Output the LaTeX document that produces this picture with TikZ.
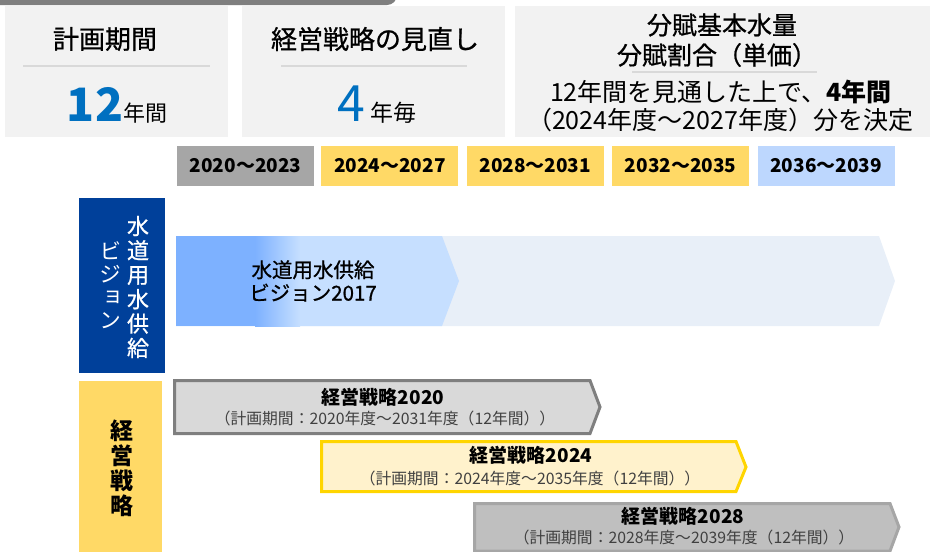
\documentclass[tikz,border=0pt]{standalone}
\usepackage{fontspec}
\setmainfont{Noto Sans CJK JP}
\newfontfamily\medjp[FakeBold=0.8]{Noto Sans CJK JP}
\newfontfamily\vertjp[RawFeature=+vert]{Noto Sans CJK JP}
\usetikzlibrary{positioning}
\definecolor{barGrey}{HTML}{7F7F7F}
\definecolor{panelGrey}{HTML}{F2F2F2}
\definecolor{sepGrey}{HTML}{D9D9D9}
\definecolor{numBlue}{HTML}{0070C0}
\definecolor{yearGrey}{HTML}{A6A6A6}
\definecolor{yearYellow}{HTML}{FFD966}
\definecolor{yearBlue}{HTML}{BDD7FE}
\definecolor{visionNavy}{HTML}{00409A}
\definecolor{visionBack}{HTML}{E8EFF8}
\definecolor{visionDeep}{HTML}{7DB1FF}
\definecolor{visionLight}{HTML}{C6DFFF}
\definecolor{subGrey}{HTML}{404040}
\definecolor{planGold}{HTML}{FFD500}
\definecolor{planCream}{HTML}{FFF2CC}
\definecolor{planSilver}{HTML}{BFBFBF}

\begin{document}
\begin{tikzpicture}[x=1pt, y=-1pt,
    panel/.style={fill=panelGrey},
    sepline/.style={draw=sepGrey, line width=2pt},
    headtext/.style={font=\medjp\fontsize{26}{30}\selectfont, inner sep=0pt},
    yearbox/.style={minimum width=137pt, minimum height=40pt, inner sep=0pt,
        font=\bfseries\fontsize{19}{20}\selectfont},
    vtext/.style={align=center, inner sep=0pt},
    plantitle/.style={font=\bfseries\fontsize{19}{20}\selectfont, inner sep=0pt},
    plansub/.style={font=\fontsize{15.8}{16}\selectfont, text=subGrey, inner sep=0pt},
    chevron/.style={line width=3pt, line join=miter}]
    \useasboundingbox (0,0) rectangle (930,552);
    \fill[barGrey, rounded corners=10pt] (-20,-20) rectangle (397,5);

    % top panels
    \fill[panel] (5,6) rectangle (228,137);
    \fill[panel] (242,6) rectangle (505,137);
    \fill[panel] (515,6) rectangle (935,137);
    \node[headtext] (planHead) at (105,39) {計画期間};
    \draw[sepline] (23,66) -- (210,66);
    \node[anchor=base, inner sep=0pt] (planValue) at (117,121)
        {{\color{numBlue}\bfseries\fontsize{46}{46}\selectfont 12}{\fontsize{22}{22}\selectfont 年間}};
    \node[headtext] (reviewHead) at (375,39) {経営戦略の見直し};
    \draw[sepline] (281,66) -- (467,66);
    \node[anchor=base, inner sep=0pt] (reviewValue) at (377,121)
        {{\color{numBlue}\fontsize{50}{50}\selectfont 4}\hspace{6pt}{\fontsize{23}{23}\selectfont 年毎}};
    \node[headtext, font=\medjp\fontsize{25}{30}\selectfont] (rateHead) at (722,25) {分賦基本水量};
    \node[headtext, font=\medjp\fontsize{25}{30}\selectfont] (rateSub) at (717,55) {分賦割合（単価）};
    \draw[sepline] (632,72) -- (817,72);
    \node[inner sep=0pt, font=\fontsize{25}{26}\selectfont] (rateNote) at (721,92)
        {12年間を見通した上で、{\bfseries 4年間}};
    \node[inner sep=0pt, font=\fontsize{25}{26}\selectfont] (rateTerm) at (720,120)
        {（2024年度～2027年度）分を決定};

    % year header
    \node[yearbox, fill=yearGrey] (y2020) at (245.5,166) {2020～2023};
    \node[yearbox, fill=yearYellow, right=7pt of y2020] (y2024) {2024～2027};
    \node[yearbox, fill=yearYellow, right=8pt of y2024] (y2028) {2028～2031};
    \node[yearbox, fill=yearYellow, right=8pt of y2028] (y2032) {2032～2035};
    \node[yearbox, fill=yearBlue, right=8pt of y2032] (y2036) {2036～2039};

    % vision row
    \fill[visionNavy] (79,198) rectangle (165,373);
    \node[vtext, text=white, font=\medjp\fontsize{22}{24.4}\selectfont] (visionColA) at (138,287) {水\\道\\用\\水\\供\\給};
    \node[vtext, text=white, font=\vertjp\fontsize{22}{23}\selectfont] (visionColB) at (110,285) {ビ\\ジ\\ョ\\ン};
    \fill[visionBack] (176,236) -- (879,236) -- (895,281) -- (879,326) -- (176,326) -- cycle;
    \fill[visionLight] (176,236) -- (442,236) -- (459,281) -- (442,326) -- (176,326) -- cycle;
    \fill[visionDeep] (176,236) rectangle (256,326);
    \shade[left color=visionDeep, right color=visionLight] (255,236) rectangle (300,326);
    \node[vtext, font=\medjp\fontsize{20.5}{23}\selectfont] (visionText) at (313,281) {水道用水供給\\ビジョン2017};

    % strategy row
    \fill[yearYellow] (79,381) rectangle (162,560);
    \node[vtext, font=\bfseries\fontsize{23}{25}\selectfont] (planColumn) at (122,468) {経\\営\\戦\\略};
    \draw[chevron, draw=barGrey, fill=sepGrey] (174.5,380.5) -- (590,380.5) -- (600,407) -- (590,433.5) -- (174.5,433.5) -- cycle;
    \node[plantitle] (plan2020) at (383,397) {経営戦略2020};
    \node[plansub] (term2020) at (385,418) {（計画期間：2020年度～2031年度（12年間））};
    \draw[chevron, draw=planGold, fill=planCream] (321.5,441.5) -- (736,441.5) -- (746,467) -- (736,491.5) -- (321.5,491.5) -- cycle;
    \node[plantitle] (plan2024) at (531,455) {経営戦略2024};
    \node[plansub] (term2024) at (530,478) {（計画期間：2024年度～2035年度（12年間））};
    \draw[chevron, draw=yearGrey, fill=planSilver] (474.5,503.5) -- (890,503.5) -- (899,527) -- (890,551) -- (474.5,551) -- cycle;
    \node[plantitle] (plan2028) at (683,516) {経営戦略2028};
    \node[plansub] (term2028) at (684,537) {（計画期間：2028年度～2039年度（12年間））};
\end{tikzpicture}
\end{document}
